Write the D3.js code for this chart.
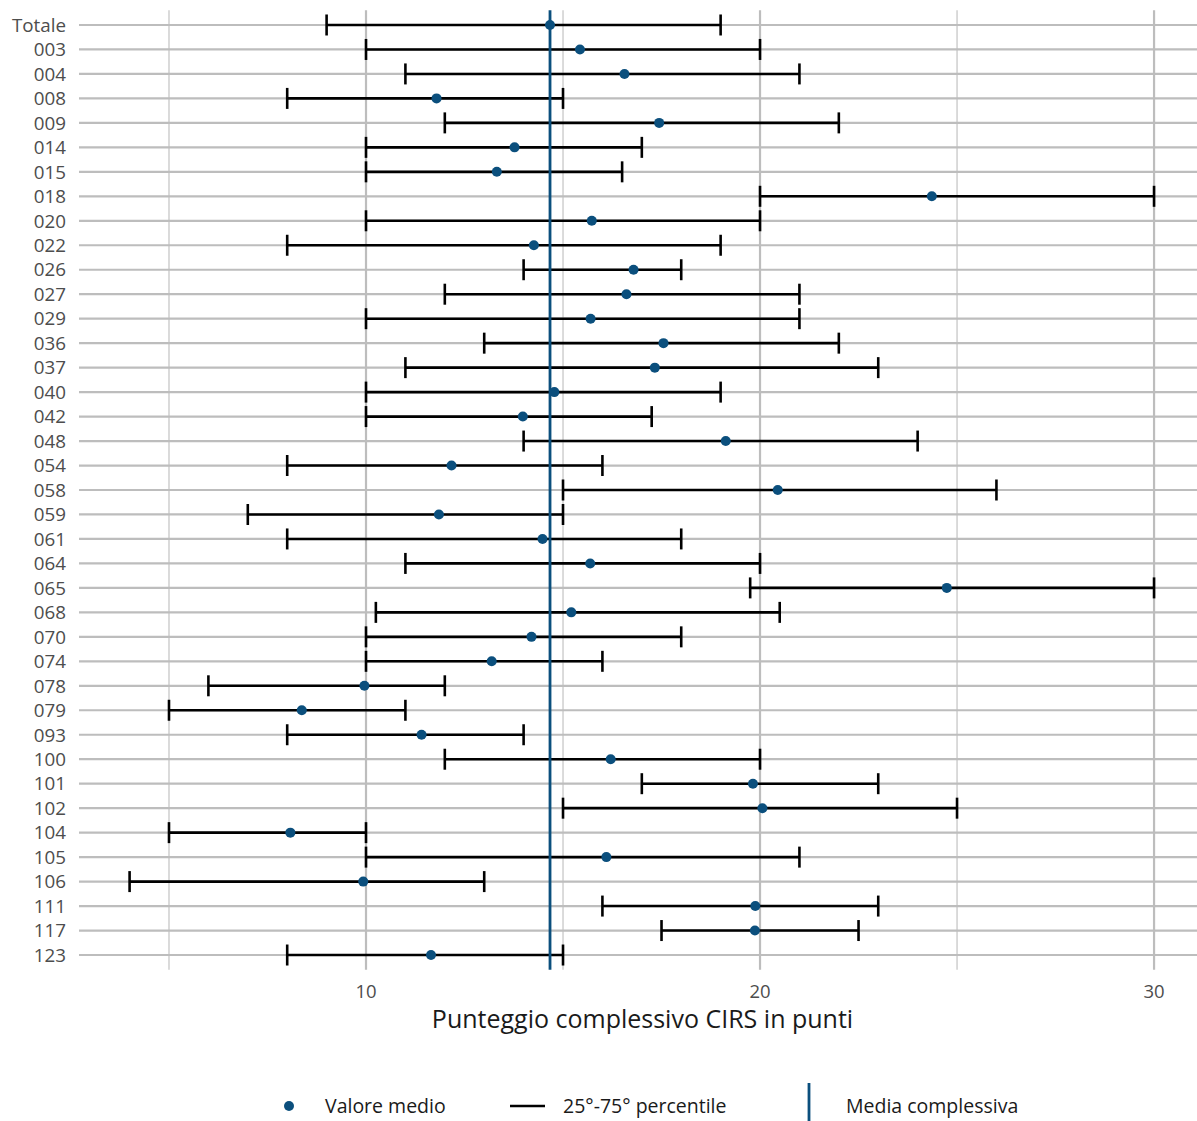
<!DOCTYPE html>
<html>
<head>
<meta charset="utf-8">
<script src="https://cdn.jsdelivr.net/npm/d3@7"></script>
<style>
    body { margin: 0; background: #fff; }
    svg text { font-family: "Open Sans", "Noto Sans", sans-serif; }
</style>
</head>
<body>
<div id="chart"></div>
<script>
// structures, in display order (top to bottom)
let categories = ["Totale", "003", "004", "008", "009", "014", "015", "018", "020", "022",
    "026", "027", "029", "036", "037", "040", "042", "048", "054", "058",
    "059", "061", "064", "065", "068", "070", "074", "078", "079", "093",
    "100", "101", "102", "104", "105", "106", "111", "117", "123"];

// mean score per structure
let meanValues = [14.67, 15.43, 16.56, 11.79, 17.44, 13.77, 13.32, 24.36, 15.73, 14.26,
    16.79, 16.61, 15.70, 17.55, 17.33, 14.78, 13.98, 19.13, 12.17, 20.45,
    11.85, 14.48, 15.69, 24.74, 15.21, 14.20, 13.19, 9.96, 8.37, 11.41,
    16.21, 19.82, 20.06, 8.08, 16.10, 9.93, 19.88, 19.87, 11.65];

// 25th percentile
let p25Values = [9, 10, 11, 8, 12, 10, 10, 20, 10, 8,
    14, 12, 10, 13, 11, 10, 10, 14, 8, 15,
    7, 8, 11, 19.75, 10.25, 10, 10, 6, 5, 8,
    12, 17, 15, 5, 10, 4, 16, 17.5, 8];

// 75th percentile
let p75Values = [19, 20, 21, 15, 22, 17, 16.5, 30, 20, 19,
    18, 21, 21, 22, 23, 19, 17.25, 24, 16, 26,
    15, 18, 20, 30, 20.5, 18, 16, 12, 11, 14,
    20, 23, 25, 10, 21, 13, 23, 22.5, 15];

let overallMean = 14.67;
let xTicksMajor = [10, 20, 30];
let xTicksMinor = [5, 15, 25];

let legendLabels = ["Valore medio", "25°-75° percentile", "Media complessiva"];

let width = 1197, height = 1121;
let plotLeft = 79, plotRight = 1197, plotTop = 10.3, plotBottom = 969.7;
let blue = "#0b4f7d";
let gridColor = "#bdbdbd";

let rows = categories.map((c, i) => ({
    cat: c,
    mean: meanValues[i],
    lo: p25Values[i],
    hi: p75Values[i]
}));

let svg = d3.select("#chart").append("svg")
    .attr("width", width)
    .attr("height", height);

let x = d3.scaleLinear().domain([2.716, 31.09]).range([plotLeft, plotRight]);
let y = d3.scalePoint().domain(categories).range([plotTop, plotBottom]).padding(0.6);

// grid
let grid = svg.append("g").attr("class", "grid");
grid.selectAll("line.minor").data(xTicksMinor).join("line")
    .attr("class", "minor")
    .attr("x1", d => x(d)).attr("x2", d => x(d))
    .attr("y1", plotTop).attr("y2", plotBottom)
    .attr("stroke", gridColor).attr("stroke-width", 1.1);
grid.selectAll("line.hrow").data(categories).join("line")
    .attr("class", "hrow")
    .attr("x1", plotLeft).attr("x2", plotRight)
    .attr("y1", d => y(d)).attr("y2", d => y(d))
    .attr("stroke", gridColor).attr("stroke-width", 2.2);
grid.selectAll("line.major").data(xTicksMajor).join("line")
    .attr("class", "major")
    .attr("x1", d => x(d)).attr("x2", d => x(d))
    .attr("y1", plotTop).attr("y2", plotBottom)
    .attr("stroke", gridColor).attr("stroke-width", 2.2);

// y labels
svg.append("g").selectAll("text").data(categories).join("text")
    .attr("x", 66)
    .attr("y", d => y(d))
    .attr("dy", "0.36em")
    .attr("text-anchor", "end")
    .attr("font-size", 18.8)
    .attr("fill", "#4d4d4d")
    .text(d => d);

// x tick labels
svg.append("g").selectAll("text").data(xTicksMajor).join("text")
    .attr("x", d => x(d))
    .attr("y", 998)
    .attr("text-anchor", "middle")
    .attr("font-size", 18.5)
    .attr("fill", "#4d4d4d")
    .text(d => d);

// axis title
svg.append("text")
    .attr("x", 642.5)
    .attr("y", 1028)
    .attr("text-anchor", "middle")
    .attr("font-size", 25)
    .attr("fill", "#1a1a1a")
    .text("Punteggio complessivo CIRS in punti");

// error bars
let capH = 10.5;
let bars = svg.append("g").attr("class", "bars");
bars.selectAll("line.range").data(rows).join("line")
    .attr("class", "range")
    .attr("x1", d => x(d.lo)).attr("x2", d => x(d.hi))
    .attr("y1", d => y(d.cat)).attr("y2", d => y(d.cat))
    .attr("stroke", "#000").attr("stroke-width", 2.6);
bars.selectAll("line.capLo").data(rows).join("line")
    .attr("class", "capLo")
    .attr("x1", d => x(d.lo)).attr("x2", d => x(d.lo))
    .attr("y1", d => y(d.cat) - capH).attr("y2", d => y(d.cat) + capH)
    .attr("stroke", "#000").attr("stroke-width", 2.6);
bars.selectAll("line.capHi").data(rows).join("line")
    .attr("class", "capHi")
    .attr("x1", d => x(d.hi)).attr("x2", d => x(d.hi))
    .attr("y1", d => y(d.cat) - capH).attr("y2", d => y(d.cat) + capH)
    .attr("stroke", "#000").attr("stroke-width", 2.6);

// overall mean line
svg.append("line")
    .attr("x1", x(overallMean)).attr("x2", x(overallMean))
    .attr("y1", plotTop).attr("y2", plotBottom)
    .attr("stroke", blue).attr("stroke-width", 2.8);

// mean points
svg.append("g").selectAll("circle").data(rows).join("circle")
    .attr("cx", d => x(d.mean))
    .attr("cy", d => y(d.cat))
    .attr("r", 5)
    .attr("fill", blue);

// legend
let legend = svg.append("g").attr("class", "legend");
let ly = 1106;
legend.append("circle").attr("cx", 289).attr("cy", ly).attr("r", 5).attr("fill", blue);
legend.append("line").attr("x1", 510).attr("x2", 545).attr("y1", ly).attr("y2", ly)
    .attr("stroke", "#000").attr("stroke-width", 2.6);
legend.append("line").attr("x1", 809).attr("x2", 809).attr("y1", 1083).attr("y2", 1121)
    .attr("stroke", blue).attr("stroke-width", 2.8);
let legendX = [325, 563, 846];
legend.selectAll("text").data(legendLabels).join("text")
    .attr("x", (d, i) => legendX[i])
    .attr("y", ly)
    .attr("dy", "0.36em")
    .attr("font-size", 19.5)
    .attr("fill", "#1a1a1a")
    .text(d => d);
</script>
</body>
</html>
